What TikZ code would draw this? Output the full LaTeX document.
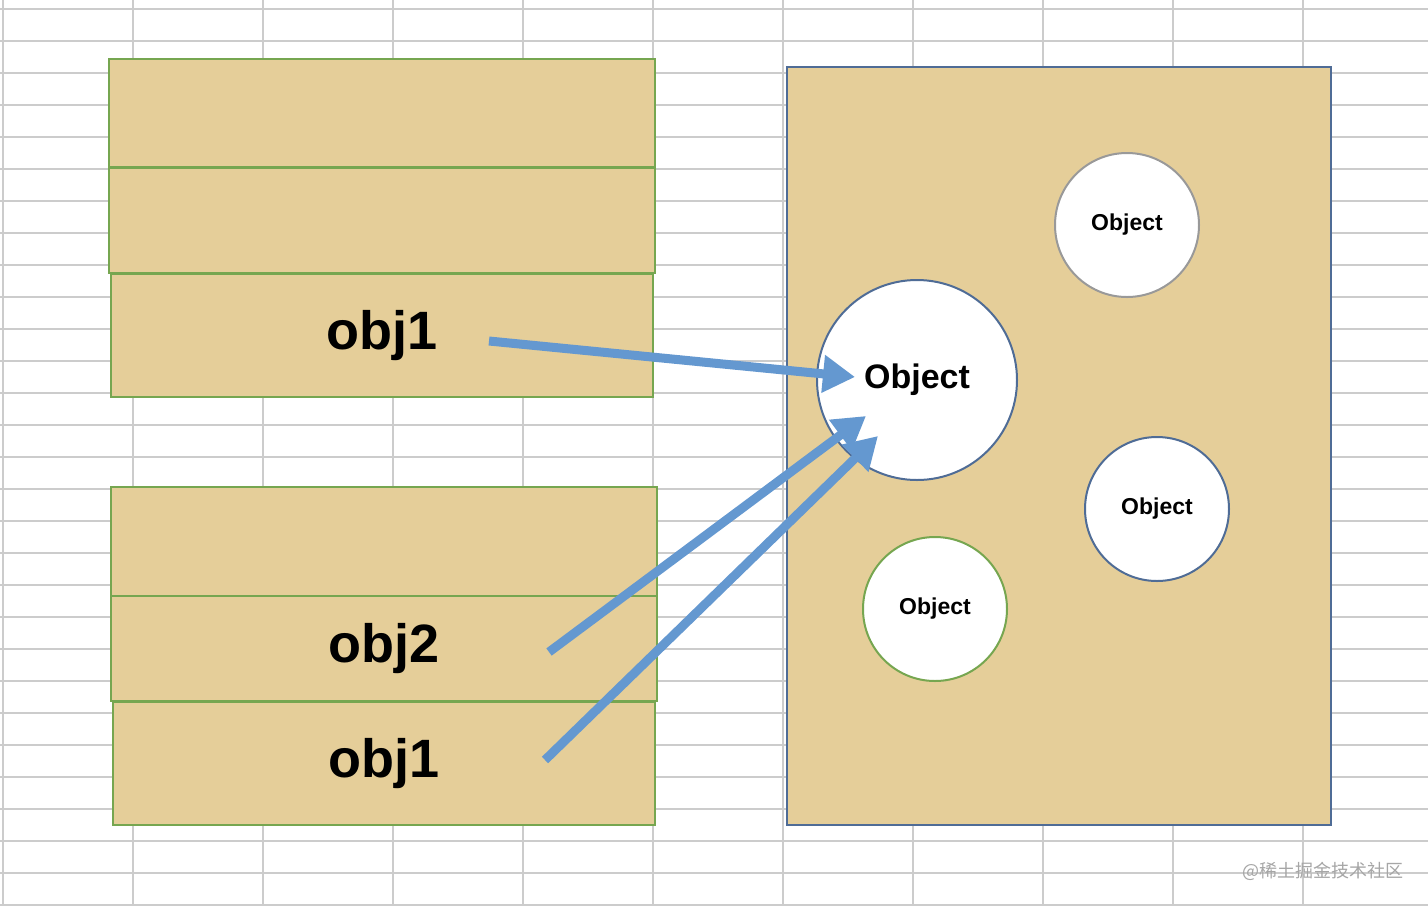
\documentclass[tikz,border=0pt]{standalone}
\usepackage{fontspec}
\setmainfont{Liberation Sans}
\newfontfamily\cjkfont{Noto Sans CJK SC}
\usetikzlibrary{calc, arrows.meta}

\definecolor{papyrus}{RGB}{229,206,153}
\definecolor{cellgreen}{RGB}{118,166,80}
\definecolor{heapblue}{RGB}{79,108,150}
\definecolor{arrowblue}{RGB}{100,152,208}
\definecolor{gridgray}{RGB}{204,204,204}

\tikzset{
  slot/.style={draw=cellgreen, line width=2pt, fill=papyrus, rectangle,
    inner sep=0pt, outer sep=0pt, font=\fontsize{54}{60}\selectfont\bfseries},
  heap/.style={draw=heapblue, line width=2pt, fill=papyrus, rectangle,
    inner sep=0pt, outer sep=0pt},
  obj/.style={circle, fill=white, line width=2pt, inner sep=0pt,
    minimum size=144pt, font=\fontsize{23}{27}\selectfont\bfseries},
  refarrow/.style={draw=arrowblue, line width=9pt,
    -{Triangle[length=32pt,width=36pt]}}
}

\begin{document}
\begin{tikzpicture}[x=1pt, y=-1pt]

  \useasboundingbox (0,0) rectangle (1428,906);
  \fill[white] (0,0) rectangle (1428,906);

  % Spreadsheet grid
  \foreach \k in {0,...,28} {
    \draw[gridgray, line width=2pt] (0,9+32*\k) -- (1428,9+32*\k);
  }
  \foreach \k in {0,...,10} {
    \draw[gridgray, line width=2pt] (3+130*\k,0) -- (3+130*\k,906);
  }

  % Stack frames (left)
  \node[slot, minimum width=546pt, minimum height=108pt] (a1) at (382,113) {};
  \node[slot, minimum width=546pt, minimum height=105pt] (a2) at (382,220.5) {};
  \node[slot, minimum width=542pt, minimum height=123pt] (a3) at (382,335.5) {\raisebox{-3pt}{obj1}};

  \node[slot, minimum width=546pt, minimum height=109pt] (b1) at (384,541.5) {};
  \node[slot, minimum width=546pt, minimum height=105pt] (b2) at (384,648.5) {\raisebox{-3pt}{obj2}};
  \node[slot, minimum width=542pt, minimum height=123pt] (b3) at (384,763.5) {\raisebox{-3pt}{obj1}};

  % Heap (right)
  \node[heap, minimum width=544pt, minimum height=758pt] (H) at (1059,446) {};

  % Objects on the heap
  \node[obj, draw=heapblue, minimum size=200pt,
        font=\fontsize{34}{40}\selectfont\bfseries] (O) at (917,380) {Object};
  \node[obj, draw=gray!80] (O1) at (1127,225) {Object};
  \node[obj, draw=heapblue] (O2) at (1157,509) {Object};
  \node[obj, draw=cellgreen] (O3) at (935,609) {Object};

  % References
  \coordinate (s1) at (489,341);
  \coordinate (t1) at (855,377);
  \coordinate (s2) at (549,652);
  \coordinate (t2) at (866,416);
  \coordinate (s3) at (545,760);
  \coordinate (t3) at (878,436);
  \draw[refarrow] (s1) -- (t1);
  \draw[refarrow] (s2) -- (t2);
  \draw[refarrow] (s3) -- (t3);

  % Watermark
  \node[text=gray!70, font=\cjkfont\fontsize{18}{21}\selectfont] (wm) at (1323,871) {@稀土掘金技术社区};

\end{tikzpicture}
\end{document}
